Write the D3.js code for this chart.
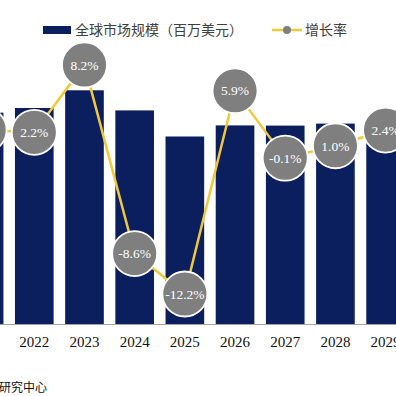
<!DOCTYPE html>
<html lang="zh">
<head>
  <meta charset="UTF-8">
  <title>全球市场规模</title>
  <script src="https://d3js.org/d3.v7.min.js"></script>
  <style>
    body {
      margin: 0;
      background-color: #fff;
      overflow: hidden;
    }
    svg {
      display: block;
    }
    .tick-label {
      font-family: "Liberation Serif", "DejaVu Serif", serif;
      font-size: 15px;
      fill: #111;
    }
    .rate-label {
      font-family: "Liberation Serif", "DejaVu Serif", serif;
      font-size: 13.5px;
      fill: #fff;
    }
    .legend-text {
      font-family: "Noto Sans CJK SC", sans-serif;
      font-size: 14px;
      fill: #404040;
    }
  </style>
</head>
<body>
  <div id="chart"></div>
  <script>
    const years = ["2021", "2022", "2023", "2024", "2025", "2026", "2027", "2028", "2029"];
    const marketSize = [2113, 2160, 2337, 2136, 1875, 1986, 1984, 2004, 2052];
    const growthRate = [2.4, 2.2, 8.2, -8.6, -12.2, 5.9, -0.1, 1.0, 2.4];

    const width = 396;
    const height = 396;

    const barColor = "#0b1f5e";
    const lineColor = "#f0c93a";
    const dotColor = "#7f7f7f";

    const svg = d3.select("#chart")
      .append("svg")
      .attr("width", width)
      .attr("height", height);

    // chart is cropped on both sides, so the band range runs past the edges
    const x = d3.scaleBand()
      .domain(years)
      .range([-41, 410.7])
      .paddingInner(0.23)
      .paddingOuter(0.115);

    const y = d3.scaleLinear()
      .domain([0, 3240])
      .range([324, 0]);

    const y2 = d3.scaleLinear()
      .domain([-14, 14])
      .range([314.2, -0.2]);

    const cx = d => x(d) + x.bandwidth() / 2;

    // bars
    svg.append("g")
      .selectAll("rect")
      .data(years)
      .join("rect")
      .attr("x", d => x(d))
      .attr("y", (d, i) => y(marketSize[i]))
      .attr("width", x.bandwidth())
      .attr("height", (d, i) => y(0) - y(marketSize[i]))
      .attr("fill", barColor);

    // x axis
    const xAxis = svg.append("g")
      .attr("transform", `translate(0,${y(0)})`)
      .call(d3.axisBottom(x).tickSize(0).tickPadding(12));
    xAxis.select(".domain")
      .attr("d", `M0,0.5H${width}`)
      .attr("stroke", "#a6a6a6")
      .attr("stroke-width", 1);
    xAxis.selectAll(".tick text")
      .attr("class", "tick-label")
      .attr("fill", null);

    // growth line
    const line = d3.line()
      .x((d, i) => cx(years[i]))
      .y(d => y2(d));

    svg.append("path")
      .datum(growthRate)
      .attr("d", line)
      .attr("fill", "none")
      .attr("stroke", lineColor)
      .attr("stroke-width", 2.5);

    const dots = svg.append("g")
      .selectAll("g")
      .data(growthRate)
      .join("g")
      .attr("transform", (d, i) => `translate(${cx(years[i])},${y2(d)})`);

    dots.append("circle")
      .attr("r", 22.5)
      .attr("fill", dotColor)
      .attr("stroke", "#fff")
      .attr("stroke-width", 1.8);

    dots.append("text")
      .attr("class", "rate-label")
      .attr("text-anchor", "middle")
      .attr("dy", "0.35em")
      .text(d => d.toFixed(1) + "%");

    // legend
    const legend = svg.append("g");

    legend.append("rect")
      .attr("x", 43)
      .attr("y", 26)
      .attr("width", 28)
      .attr("height", 8)
      .attr("fill", barColor);

    legend.append("text")
      .attr("class", "legend-text")
      .attr("x", 75)
      .attr("y", 30)
      .attr("dy", "0.35em")
      .text("全球市场规模（百万美元）");

    legend.append("line")
      .attr("x1", 272)
      .attr("x2", 302)
      .attr("y1", 30)
      .attr("y2", 30)
      .attr("stroke", lineColor)
      .attr("stroke-width", 2.5);

    legend.append("circle")
      .attr("cx", 287)
      .attr("cy", 30)
      .attr("r", 4)
      .attr("fill", dotColor);

    legend.append("text")
      .attr("class", "legend-text")
      .attr("x", 305)
      .attr("y", 30)
      .attr("dy", "0.35em")
      .text("增长率");

    // source note, cut off at the left edge
    svg.append("text")
      .attr("x", -1)
      .attr("y", 392)
      .attr("font-family", "Noto Sans CJK SC, sans-serif")
      .attr("font-size", 12)
      .attr("fill", "#111")
      .text("研究中心");
  </script>
</body>
</html>
